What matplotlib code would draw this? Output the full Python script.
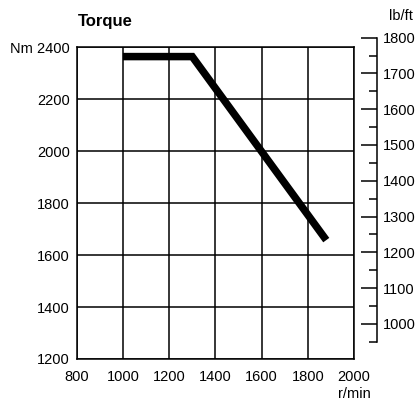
import matplotlib.pyplot as plt
import numpy as np

plt.rcParams['font.family'] = ['Liberation Sans', 'DejaVu Sans']

# torque curve (rpm, Nm)
rpm = [1000, 1300, 1880]
torque_nm = [2365, 2365, 1658]

x_ticks = [800, 1000, 1200, 1400, 1600, 1800, 2000]
y_ticks = [1200, 1400, 1600, 1800, 2000, 2200, 2400]
lbft_major = [1000, 1100, 1200, 1300, 1400, 1500, 1600, 1700, 1800]
lbft_minor = [950, 1050, 1150, 1250, 1350, 1450, 1550, 1650, 1750]

fig = plt.figure(figsize=(4.17, 4.0), dpi=100)
ax = fig.add_axes([76.7 / 417, 41 / 400, 277.3 / 417, 311.5 / 400])

ax.plot(rpm, torque_nm, color='black', linewidth=5.4, solid_joinstyle='miter',
        solid_capstyle='butt', zorder=3)

ax.set_xlim(800, 2000)
ax.set_ylim(1200, 2400)
ax.set_xticks(x_ticks)
ax.set_yticks(y_ticks)
ax.set_yticklabels(['1200', '1400', '1600', '1800', '2000', '2200', 'Nm 2400'])
ax.grid(True, color='black', linewidth=1.1)
ax.tick_params(axis='x', length=0, labelsize=10.5, pad=8)
ax.tick_params(axis='y', length=0, labelsize=10.5, pad=5)
for s in ax.spines.values():
    s.set_linewidth(1.1)

ax.text(0.005, 1.082, 'Torque', transform=ax.transAxes, fontsize=12,
        fontweight='bold', ha='left', va='center')
ax.text(1.0, -0.112, 'r/min', transform=ax.transAxes, fontsize=10.5,
        ha='center', va='center')

# separate lb/ft scale on the right
sec = fig.add_axes([376.7 / 417, 1 - 341.7 / 400, 0.001, 304 / 400])
sec.set_ylim(950, 1800)
sec.set_xticks([])
sec.patch.set_visible(False)
for side in ['left', 'top', 'bottom']:
    sec.spines[side].set_visible(False)
sec.spines['right'].set_linewidth(1.1)
sec.yaxis.tick_right()
sec.set_yticks(lbft_major)
sec.set_yticks(lbft_minor, minor=True)
sec.tick_params(which='major', direction='in', length=11.5, width=1.1,
                labelsize=10.5, pad=4)
sec.tick_params(which='minor', direction='in', length=6, width=1.1)

fig.text(401 / 417, 1 - 16 / 400, 'lb/ft', fontsize=10.5, ha='center',
         va='center')

fig.savefig('out.png', dpi=100)
